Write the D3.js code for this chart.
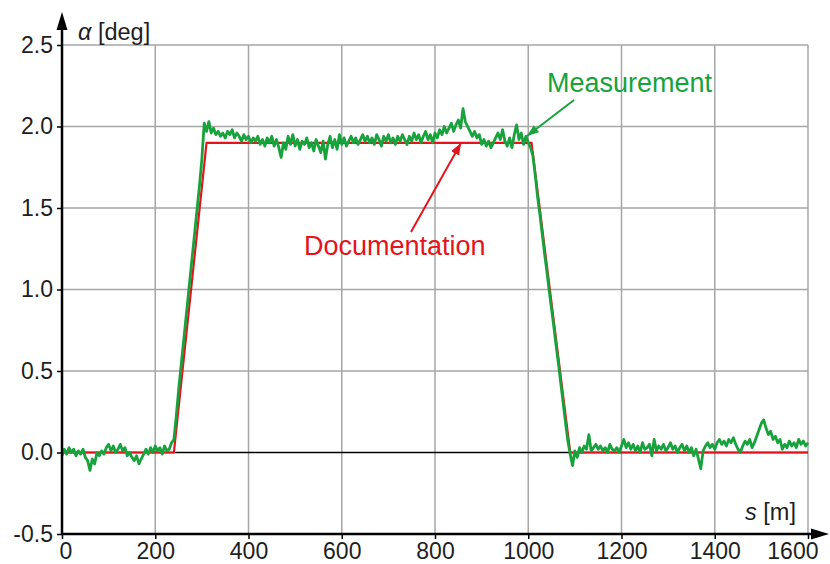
<!DOCTYPE html>
<html>
<head>
<meta charset="utf-8">
<script src="https://cdn.jsdelivr.net/npm/d3@7"></script>
<style>
  html, body { margin: 0; padding: 0; background: #fff; }
  svg { display: block; font-family: "Liberation Sans", Arial, sans-serif; }
</style>
</head>
<body>
<svg id="chart" width="830" height="564"></svg>
<script>
// ---------- data ----------
const xTicks = [0, 200, 400, 600, 800, 1000, 1200, 1400, 1600];
const yTicks = [-0.5, 0.0, 0.5, 1.0, 1.5, 2.0, 2.5];
const yTickLabels = ["-0.5", "0.0", "0.5", "1.0", "1.5", "2.0", "2.5"];

// Documentation (design) profile
const docS = [0, 240, 310, 1007, 1090, 1600];
const docV = [0, 0, 1.9, 1.9, 0, 0];

// Measurement, sampled every 5 m from s = 0 to 1600
const measStep = 5;
const measV = [
  -0.02, 0.02, -0.01, 0.03, 0.00, 0.02, -0.02, 0.01, -0.01, 0.02,
  -0.03, -0.05, -0.11, -0.04, -0.07, 0.00, -0.02, 0.01, -0.01, 0.03,
  0.05, 0.01, 0.04, 0.00, 0.02, 0.05, 0.01, 0.03, -0.02, 0.00,
  -0.03, -0.05, -0.02, -0.07, -0.04, -0.01, 0.02, -0.01, 0.03, 0.00,
  0.04, 0.01, 0.03, -0.01, 0.04, 0.01, 0.02, 0.06, 0.08, 0.22,
  0.38, 0.52, 0.66, 0.80, 0.94, 1.08, 1.22, 1.36, 1.50, 1.64,
  1.80, 2.02, 1.97, 2.03, 1.96, 1.99, 1.95, 1.97, 1.94, 1.96,
  1.93, 1.97, 1.95, 1.98, 1.93, 1.96, 1.94, 1.91, 1.95, 1.92,
  1.94, 1.90, 1.93, 1.91, 1.94, 1.89, 1.92, 1.88, 1.93, 1.90,
  1.94, 1.88, 1.92, 1.87, 1.81, 1.90, 1.86, 1.94, 1.89, 1.95,
  1.88, 1.92, 1.86, 1.91, 1.89, 1.93, 1.87, 1.90, 1.85, 1.92,
  1.88, 1.84, 1.91, 1.80, 1.89, 1.94, 1.87, 1.92, 1.86, 1.95,
  1.89, 1.93, 1.88, 1.91, 1.94, 1.90, 1.93, 1.89, 1.92, 1.95,
  1.91, 1.94, 1.90, 1.93, 1.89, 1.95, 1.92, 1.88, 1.94, 1.91,
  1.95, 1.90, 1.93, 1.89, 1.94, 1.91, 1.95, 1.92, 1.89, 1.94,
  1.91, 1.96, 1.92, 1.95, 1.90, 1.94, 1.97, 1.92, 1.95, 1.90,
  1.96, 1.93, 1.98, 1.95, 2.00, 1.96, 1.99, 2.02, 1.97, 2.01,
  2.04, 1.99, 2.11, 2.03, 2.00, 1.97, 1.94, 1.97, 1.93, 1.95,
  1.89, 1.92, 1.88, 1.91, 1.87, 1.90, 1.93, 1.96, 1.92, 1.98,
  1.91, 1.88, 1.93, 1.87, 1.95, 2.01, 1.92, 1.96, 1.89, 1.94,
  1.90, 1.87, 1.82, 1.70, 1.57, 1.46, 1.34, 1.22, 1.11, 0.99,
  0.88, 0.77, 0.65, 0.54, 0.42, 0.30, 0.18, 0.07, -0.01, -0.08,
  0.01, -0.03, 0.03, 0.00, 0.04, 0.02, 0.11, 0.01, 0.03, 0.05,
  0.02, 0.04, 0.01, 0.03, 0.00, 0.05, 0.02, 0.01, 0.03, 0.00,
  0.04, 0.08, 0.03, 0.06, 0.02, 0.05, 0.01, 0.04, 0.00, 0.06,
  0.02, 0.03, 0.05, -0.02, 0.08, 0.01, 0.04, 0.02, 0.05, 0.01,
  0.03, 0.06, 0.02, 0.04, 0.00, 0.03, 0.05, 0.01, 0.04, 0.00,
  0.03, -0.02, 0.02, -0.04, -0.10, 0.01, 0.04, 0.06, 0.03, 0.05,
  0.02, 0.06, 0.08, 0.05, 0.07, 0.04, 0.08, 0.06, 0.09, 0.05,
  0.02, 0.00, 0.04, 0.07, 0.05, 0.08, 0.03, 0.06, 0.10, 0.14,
  0.18, 0.20, 0.15, 0.11, 0.13, 0.08, 0.10, 0.06, 0.08, 0.02,
  0.05, 0.03, 0.07, 0.04, 0.06, 0.03, 0.08, 0.05, 0.07, 0.04,
  0.06
];

// ---------- chart ----------
const svg = d3.select("#chart");
const x = d3.scaleLinear().domain([0, 1600]).range([62, 808]);
const y = d3.scaleLinear().domain([-0.5, 2.5]).range([534, 45]);

const RED = "#e3141c", GREEN = "#17a23b", GRID = "#a6a6a6", INK = "#1e1e1e";
const TICK_FS = 23;

const defs = svg.append("defs");
function marker(id, color, w, h) {
  defs.append("marker").attr("id", id)
    .attr("viewBox", `0 0 ${w} ${h}`).attr("refX", w).attr("refY", h / 2)
    .attr("markerWidth", w).attr("markerHeight", h)
    .attr("markerUnits", "userSpaceOnUse").attr("orient", "auto")
    .append("path").attr("d", `M0,0 L${w},${h / 2} L0,${h} Z`).attr("fill", color);
}
marker("arrRed", RED, 12, 9);
marker("arrGreen", GREEN, 12, 9);

// grid
svg.append("g").selectAll("line").data(xTicks.filter(d => d > 0)).join("line")
  .attr("x1", d => x(d)).attr("x2", d => x(d))
  .attr("y1", y(2.5)).attr("y2", y(-0.5))
  .attr("stroke", GRID).attr("stroke-width", 1.5);
svg.append("g").selectAll("line").data(yTicks.filter(d => d > 0)).join("line")
  .attr("x1", x(0)).attr("x2", x(1600))
  .attr("y1", d => y(d)).attr("y2", d => y(d))
  .attr("stroke", GRID).attr("stroke-width", 1.5);

// zero line
svg.append("line").attr("x1", x(0)).attr("x2", x(1600))
  .attr("y1", y(0)).attr("y2", y(0))
  .attr("stroke", "#000").attr("stroke-width", 1.5);

// documentation line
const docData = docS.map((s, i) => [s, docV[i]]);
svg.append("path").datum(docData)
  .attr("d", d3.line().x(d => x(d[0])).y(d => y(d[1])))
  .attr("fill", "none").attr("stroke", RED).attr("stroke-width", 2.2);

// measurement line
const measData = measV.map((v, i) => [i * measStep, v]);
svg.append("path").datum(measData)
  .attr("d", d3.line().x(d => x(d[0])).y(d => y(d[1])))
  .attr("fill", "none").attr("stroke", GREEN).attr("stroke-width", 2.8)
  .attr("stroke-linejoin", "round");

// axes
const xAxis = svg.append("g").attr("transform", `translate(0,${y(-0.5)})`)
  .call(d3.axisBottom(x).tickValues(xTicks).tickSize(5).tickFormat(d3.format("d")));
xAxis.select(".domain").remove();
xAxis.selectAll(".tick line").attr("stroke", "#000").attr("stroke-width", 1.5);
xAxis.selectAll(".tick text").attr("font-size", TICK_FS).attr("fill", INK)
  .attr("font-family", "Liberation Sans, Arial, sans-serif")
  .attr("y", 0).attr("dy", 25)
  .attr("text-anchor", (d, i) => i === 0 ? "start" : (i === xTicks.length - 1 ? "end" : "middle"))
  .attr("dx", (d, i) => i === 0 ? -3 : (i === xTicks.length - 1 ? 10 : 0));

const yAxis = svg.append("g").attr("transform", `translate(${x(0)},0)`)
  .call(d3.axisLeft(y).tickValues(yTicks).tickSize(5).tickFormat((d, i) => yTickLabels[i]));
yAxis.select(".domain").remove();
yAxis.selectAll(".tick line").attr("stroke", "#000").attr("stroke-width", 1.5);
yAxis.selectAll(".tick text").attr("font-size", TICK_FS).attr("fill", INK)
  .attr("font-family", "Liberation Sans, Arial, sans-serif").attr("x", -9);

// axis lines with arrows
svg.append("line").attr("x1", x(0)).attr("x2", x(0))
  .attr("y1", y(-0.5) + 1).attr("y2", 28).attr("stroke", "#000").attr("stroke-width", 2.5);
svg.append("path").attr("d", `M${x(0)},12 L${x(0) - 5.5},30 L${x(0) + 5.5},30 Z`).attr("fill", "#000");
svg.append("line").attr("x1", x(0) - 1).attr("x2", 814)
  .attr("y1", y(-0.5)).attr("y2", y(-0.5)).attr("stroke", "#000").attr("stroke-width", 2.5);
svg.append("path").attr("d", `M829,${y(-0.5)} L811,${y(-0.5) - 5.5} L811,${y(-0.5) + 5.5} Z`).attr("fill", "#000");

// axis titles
const yt = svg.append("text").attr("x", 78).attr("y", 40).attr("font-size", 23.5).attr("fill", INK);
yt.append("tspan").attr("font-style", "italic").text("α");
yt.append("tspan").text(" [deg]");
const xt = svg.append("text").attr("x", 745).attr("y", 520).attr("font-size", 23.5).attr("fill", INK);
xt.append("tspan").attr("font-style", "italic").text("s");
xt.append("tspan").text(" [m]");

// annotations
svg.append("text").attr("x", 547).attr("y", 92).attr("font-size", 27).attr("fill", GREEN).text("Measurement");
svg.append("line").attr("x1", 574).attr("y1", 100).attr("x2", 527).attr("y2", 136)
  .attr("stroke", GREEN).attr("stroke-width", 2).attr("marker-end", "url(#arrGreen)");
svg.append("text").attr("x", 304).attr("y", 255).attr("font-size", 27).attr("fill", RED).text("Documentation");
svg.append("line").attr("x1", 411).attr("y1", 232).attr("x2", 461).attr("y2", 143)
  .attr("stroke", RED).attr("stroke-width", 2).attr("marker-end", "url(#arrRed)");
</script>
</body>
</html>
